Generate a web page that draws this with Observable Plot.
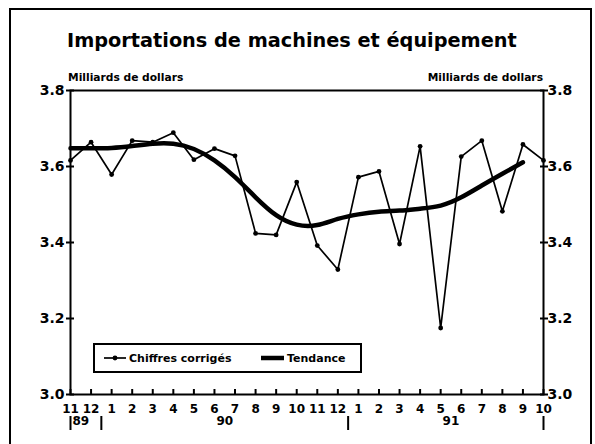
<!DOCTYPE html>
<html>
<head>
<meta charset="utf-8">
<script src="https://cdn.jsdelivr.net/npm/d3@7"></script>
<script src="https://cdn.jsdelivr.net/npm/@observablehq/plot@0.6"></script>
<style>
  html, body { margin: 0; padding: 0; background: #fff; }
  #wrap { position: relative; width: 595px; height: 444px; overflow: hidden; font-family: "DejaVu Sans", sans-serif; font-weight: bold; color: #000; }
  #wrap svg { position: absolute; left: 0; top: 0; }
  .abs { position: absolute; white-space: nowrap; line-height: 1; }
</style>
</head>
<body>
<div id="wrap">
  <div class="abs" style="left:9px;top:8px;width:579px;height:460px;border:2px solid #000;"></div>
  <div class="abs" id="title" style="left:67px;top:31px;font-size:19.3px;">Importations de machines et équipement</div>
  <div class="abs" style="left:68px;top:73px;font-size:10.7px;">Milliards de dollars</div>
  <div class="abs" style="right:52px;top:73px;font-size:10.7px;">Milliards de dollars</div>
</div>
<script>
// Months Nov 1989 .. Oct 1991
const monthLabels = ["11","12","1","2","3","4","5","6","7","8","9","10","11","12","1","2","3","4","5","6","7","8","9","10"];
// Chiffres corrigés (milliards de dollars)
const corriges = [3.616,3.664,3.579,3.668,3.664,3.689,3.618,3.647,3.628,3.424,3.420,3.559,3.392,3.329,3.572,3.587,3.396,3.653,3.175,3.626,3.668,3.482,3.658,3.616];
// Tendance (Nov 1989 .. Sep 1991)
const tendance = [3.648,3.648,3.649,3.654,3.660,3.660,3.646,3.616,3.572,3.519,3.472,3.447,3.446,3.462,3.474,3.481,3.484,3.489,3.497,3.519,3.550,3.581,3.611];
// Years and their month spans (indices)
const years = [
  {label: "89", start: 0, end: 1},
  {label: "90", start: 2, end: 13},
  {label: "91", start: 14, end: 23}
];
const yTicks = [3.0, 3.2, 3.4, 3.6, 3.8];

const idx = monthLabels.map((_, i) => i);
const dataC = corriges.map((v, i) => ({i, v}));
const dataT = tendance.map((v, i) => ({i, v}));
const bounds = [0, 1.5, 13.5, 23];

const chart = Plot.plot({
  width: 595,
  height: 444,
  marginLeft: 70,
  marginRight: 52,
  marginTop: 90,
  marginBottom: 50,
  style: {fontFamily: "DejaVu Sans, sans-serif", fontWeight: "bold", background: "transparent", color: "#000"},
  x: {type: "linear", domain: [0, 23], label: null},
  y: {domain: [3.0, 3.8], label: null},
  marks: [
    Plot.frame({stroke: "#000", strokeWidth: 2}),
    // y ticks crossing the frame, both sides
    Plot.axisY(yTicks, {anchor: "left", tickSize: 4, text: null, strokeWidth: 2, label: null}),
    Plot.axisY(yTicks, {anchor: "left", tickSize: -4, text: null, strokeWidth: 2, label: null}),
    Plot.axisY(yTicks, {anchor: "right", tickSize: 4, text: null, strokeWidth: 2, label: null}),
    Plot.axisY(yTicks, {anchor: "right", tickSize: -4, text: null, strokeWidth: 2, label: null}),
    Plot.axisY(yTicks, {anchor: "left", tickSize: 0, tickPadding: 6, tickFormat: d => d.toFixed(1), fontSize: 14, label: null}),
    Plot.axisY(yTicks, {anchor: "right", tickSize: 0, tickPadding: 4, tickFormat: d => d.toFixed(1), fontSize: 14, label: null}),
    // x ticks pointing up, labels below
    Plot.axisX(idx, {anchor: "bottom", tickSize: -5, text: null, strokeWidth: 2, label: null}),
    Plot.axisX(idx, {anchor: "bottom", tickSize: 0, tickPadding: 10, tickFormat: i => monthLabels[i], fontSize: 12, label: null}),
    // year separators and labels
    Plot.axisX(bounds, {anchor: "bottom", tickSize: 14, text: null, dy: 22, strokeWidth: 2, label: null}),
    Plot.text(years, {x: d => (d.start + d.end) / 2, text: "label", frameAnchor: "bottom", dy: 30, fontSize: 12, fill: "#000"}),
    // series
    Plot.line(dataC, {x: "i", y: "v", stroke: "#000", strokeWidth: 1.7}),
    Plot.dot(dataC, {x: "i", y: "v", r: 2.4, fill: "#000", stroke: "none"}),
    Plot.line(dataT, {x: "i", y: "v", stroke: "#000", strokeWidth: 4.5, curve: "natural"})
  ]
});
const wrap = document.getElementById("wrap");
wrap.insertBefore(chart, wrap.firstChild.nextSibling);

// Legend (HTML, placed over the plot area)
const legend = document.createElement("div");
legend.className = "abs";
legend.style.cssText = "left:93px;top:343px;width:265px;height:26px;border:2px solid #000;background:#fff;font-size:11px;";
legend.innerHTML = `
  <svg width="24" height="10" style="position:absolute;left:9px;top:8px;overflow:visible">
    <line x1="0" y1="5" x2="22" y2="5" stroke="#000" stroke-width="1.7"></line>
    <circle cx="11" cy="5" r="2.4" fill="#000"></circle>
  </svg>
  <span style="position:absolute;left:34px;top:8px;">Chiffres corrigés</span>
  <svg width="26" height="10" style="position:absolute;left:166px;top:8px;overflow:visible">
    <line x1="0" y1="5" x2="23" y2="5" stroke="#000" stroke-width="4.5"></line>
  </svg>
  <span style="position:absolute;left:192px;top:8px;">Tendance</span>`;
wrap.appendChild(legend);
</script>
</body>
</html>
